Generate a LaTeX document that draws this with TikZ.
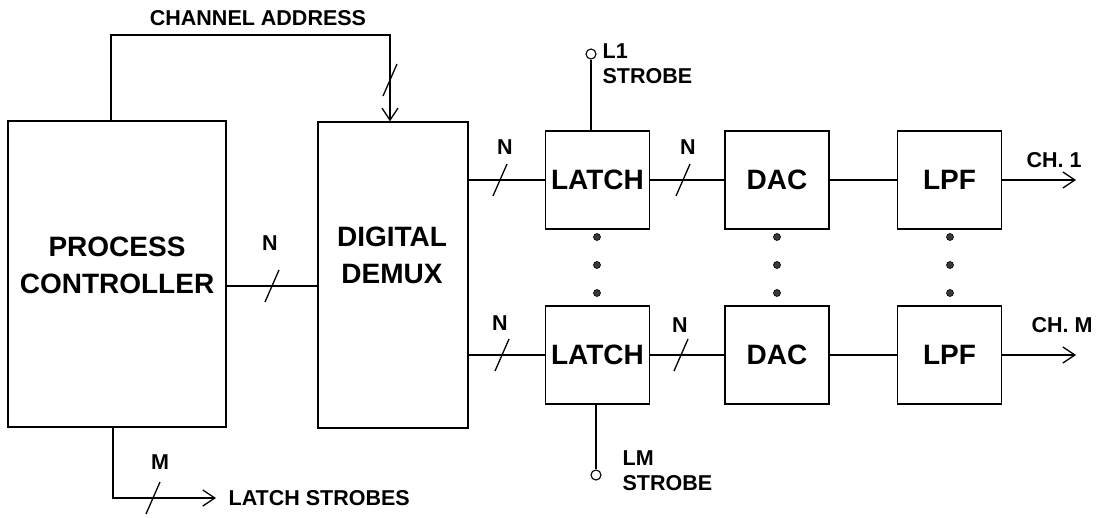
\documentclass[tikz,border=0pt]{standalone}
\usepackage{fontspec}
\setmainfont{Liberation Sans}
\usetikzlibrary{arrows.meta,positioning}

\begin{document}
\begin{tikzpicture}[x=1pt,y=-1pt,line width=1.3pt,
    blk/.style={draw,line width=1.4pt,minimum width=104pt,minimum height=98pt,inner sep=0pt,font=\fontsize{28}{36}\selectfont\bfseries},
    bigtxt/.style={font=\fontsize{28}{37}\selectfont\bfseries,align=center,inner sep=0pt},
    lbl/.style={font=\fontsize{21.5}{25}\selectfont\bfseries,inner sep=0pt},
    strb/.style={circle,draw,line width=1.1pt,minimum size=10pt,inner sep=0pt},
    arr/.style={-{Straight Barb[length=12pt,width=16pt,line width=1.3pt]}}]
    \useasboundingbox (0,0) rectangle (1100,517);
    % left blocks
    \node[draw,line width=1.4pt,minimum width=218pt,minimum height=306pt] (pc) at (117,274) {};
    \node[bigtxt] (pctxt) at (117,265) {PROCESS\\CONTROLLER};
    \node[draw,line width=1.4pt,minimum width=150pt,minimum height=306pt] (demux) at (393,275) {};
    \node[bigtxt] (demuxtxt) at (392,255) {DIGITAL\\DEMUX};
    % channel rows
    \foreach \r/\y in {1/180,M/355}{
      \node[blk] (latch\r) at (597.5,\y) {LATCH};
      \node[blk] (dac\r) at (777,\y) {DAC};
      \node[blk] (lpf\r) at (949.5,\y) {LPF};
      \coordinate (ch\r) at (1076,\y);
      \draw (demux.east |- latch\r) -- (latch\r.west);
      \draw (latch\r.east) -- (dac\r.west);
      \draw (dac\r.east) -- (lpf\r.west);
      \draw[arr] (lpf\r.east) -- (ch\r);
    }
    \node[lbl] (ch1txt) at (1054,160) {CH. 1};
    \node[lbl] (chMtxt) at (1062,325) {CH. M};
    % dots between rows
    \foreach \x in {597,777,950}{
      \foreach \y in {237,265,293}{\draw[line width=0.6pt,fill=gray!45!black] (\x,\y) circle (3.5pt);}
    }
    % channel address
    \coordinate (ca) at (111,35);
    \coordinate (cb) at (390,35);
    \draw[arr] (pc.north -| ca) -- (ca) -- (cb) -- (demux.north -| cb);
    \node[lbl] (chaddr) at (258,18) {CHANNEL ADDRESS};
    % data bus
    \coordinate (bus) at (272,286);
    \draw (pc.east |- bus) -- (demux.west |- bus);
    % latch strobes
    \coordinate (ls) at (113,498);
    \coordinate (lsend) at (216,498);
    \draw[arr] (pc.south -| ls) -- (ls) -- (lsend);
    \node[lbl,anchor=west] (lstxt) at (228,498) {LATCH STROBES};
    % strobe inputs
    \node[strb] (l1) at (591,54) {};
    \draw (latch1.north -| l1) -- (l1);
    \node[lbl,align=left,anchor=west] (l1txt) at (602,64) {L1\\STROBE};
    \node[strb] (lm) at (596,475) {};
    \draw (latchM.south -| lm) -- (lm);
    \node[lbl,align=left,anchor=west] (lmtxt) at (622,471) {LM\\STROBE};
    % bus widths
    \foreach \p in {(390,80),(272,286),(153,498),(500,180),(683,180),(502,355),(681,355)}{
      \draw \p ++(-7,16) -- ++(14,-32);
    }
    \node[lbl] (n0) at (270,243) {N};
    \node[lbl] (n1) at (505,147) {N};
    \node[lbl] (n2) at (688,147) {N};
    \node[lbl] (n3) at (500,323) {N};
    \node[lbl] (n4) at (680,325) {N};
    \node[lbl] (m0) at (160,462) {M};
\end{tikzpicture}
\end{document}
